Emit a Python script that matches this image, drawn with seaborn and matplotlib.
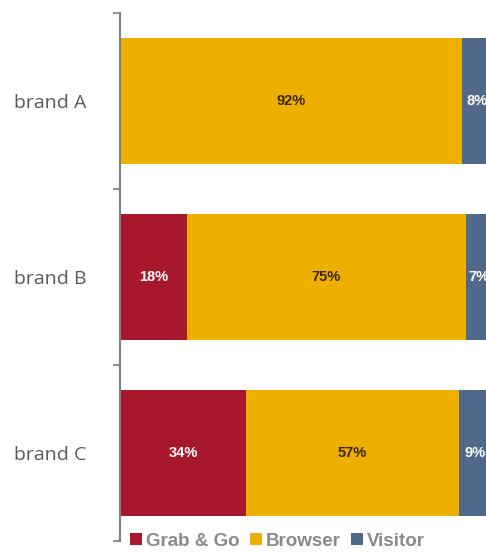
import matplotlib
matplotlib.use("Agg")
import matplotlib.pyplot as plt
import seaborn as sns
import pandas as pd
from matplotlib.patches import Patch

brands = ["brand A", "brand B", "brand C"]
grab = [0, 18, 34]
browser = [92, 75, 57]
visitor = [8, 7, 9]
series_names = ["Grab & Go", "Browser", "Visitor"]
colors = ["#A8182C", "#EEB000", "#50698A"]
label_colors = ["white", "#3a2600", "white"]

sns.set_theme(style="white")
plt.rcParams["font.family"] = ["Liberation Sans", "DejaVu Sans"]

df = pd.DataFrame({"brand": brands, "grab": grab, "browser": browser, "visitor": visitor})
df["c1"] = df["grab"]
df["c2"] = df["grab"] + df["browser"]
df["c3"] = df["c2"] + df["visitor"]

fig = plt.figure(figsize=(4.86, 5.52), dpi=100)
ax = fig.add_axes([120 / 486, 1 - 541 / 552, 372 / 486, (541 - 13) / 552])

for col, c in zip(["c3", "c2", "c1"], [colors[2], colors[1], colors[0]]):
    sns.barplot(data=df, x=col, y="brand", orient="h", color=c, width=0.714,
                saturation=1, ax=ax, linewidth=0)

starts = [[0] * 3, list(df["c1"]), list(df["c2"])]
vals = [grab, browser, visitor]
for s in range(3):
    for i in range(3):
        v = vals[s][i]
        if v <= 0:
            continue
        xc = starts[s][i] + v / 2
        ax.text(xc, i, f"{v}%", ha="center", va="center", fontsize=10.5,
                fontweight="bold", color=label_colors[s])

ax.set_xlim(0, 100)
ax.set_ylim(2.5, -0.5)
ax.set_xlabel("")
ax.set_ylabel("")
ax.set_xticks([])
ax.set_yticks([0, 1, 2])
ax.set_yticklabels(brands, fontsize=14, color="#595959", family=["Open Sans", "DejaVu Sans"])
ax.tick_params(axis="y", which="major", length=0, pad=24)
ax.set_yticks([-0.5, 0.5, 1.5, 2.5], minor=True)
ax.tick_params(axis="y", which="minor", length=5, width=1.2, color="#7f7f7f", left=True, direction="out")
for sp in ["top", "right", "bottom"]:
    ax.spines[sp].set_visible(False)
ax.spines["left"].set_color("#7f7f7f")
ax.spines["left"].set_linewidth(1.5)

handles = [Patch(facecolor=c, edgecolor="none") for c in colors]
leg = fig.legend(handles, series_names, loc="center left", bbox_to_anchor=(130 / 486, 1 - 541 / 552),
                 ncol=3, frameon=False, fontsize=13.5, handlelength=0.65, handleheight=0.65,
                 handletextpad=0.2, columnspacing=0.55, borderpad=0, borderaxespad=0)
for t in leg.get_texts():
    t.set_color("#8a8a8a")
    t.set_fontweight("bold")

fig.savefig("out.png", dpi=100)
